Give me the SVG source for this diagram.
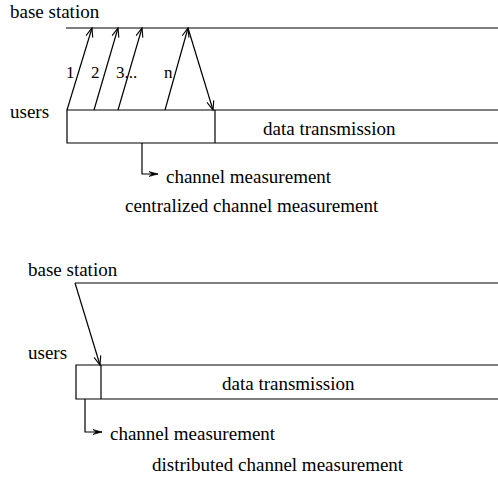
<svg xmlns="http://www.w3.org/2000/svg" width="498" height="477" viewBox="0 0 498 477">
<defs>
<style>
text{font-family:"Liberation Serif","Times New Roman",serif;font-size:19px;fill:#000}
.lbl{font-size:17px}
.ln{stroke:#000;stroke-width:1.2;fill:none}
</style>
<marker id="ah" markerWidth="12" markerHeight="10" refX="10" refY="5" orient="auto" markerUnits="userSpaceOnUse">
<path d="M1,1.5 L10,5 L1,8.5" fill="none" stroke="#000" stroke-width="1.1"/>
</marker>
<marker id="ch" markerWidth="12" markerHeight="8" refX="10" refY="4" orient="auto" markerUnits="userSpaceOnUse">
<path d="M1,1.5 L10,4 L1,6.5 L4,4 Z" fill="#000" stroke="#000" stroke-width="0.6"/>
</marker>
</defs>
<rect width="498" height="477" fill="#fff"/>

<g id="top-base-station">
<text x="10" y="18">base station</text>
<line class="ln" x1="66" y1="28" x2="498" y2="28"/>
</g>
<g id="top-users">
<text x="10" y="118">users</text>
</g>
<g id="top-box">
<path class="ln" d="M498,110 H67 V143 H498"/>
<line class="ln" x1="215" y1="110" x2="215" y2="143"/>
<text x="263" y="135">data transmission</text>
</g>
<g id="top-channel-measurement">
<text x="166" y="183">channel measurement</text>
</g>
<g id="top-caption">
<text x="125" y="212">centralized channel measurement</text>
</g>

<g id="bottom-base-station">
<text x="28" y="276">base station</text>
<line class="ln" x1="75" y1="283" x2="498" y2="283"/>
</g>
<g id="bottom-users">
<text x="28" y="359">users</text>
</g>
<g id="bottom-box">
<path class="ln" d="M498,365 H76 V399 H498"/>
<line class="ln" x1="101" y1="365" x2="101" y2="399"/>
<text x="222" y="390">data transmission</text>
</g>
<g id="bottom-channel-measurement">
<text x="110" y="440">channel measurement</text>
</g>
<g id="bottom-caption">
<text x="152" y="471">distributed channel measurement</text>
</g>

<g id="connectors">
<line class="ln" x1="67" y1="110" x2="92" y2="28" marker-end="url(#ah)"/>
<line class="ln" x1="94" y1="110" x2="118" y2="28" marker-end="url(#ah)"/>
<line class="ln" x1="118" y1="110" x2="142" y2="28" marker-end="url(#ah)"/>
<line class="ln" x1="165" y1="110" x2="188" y2="28" marker-end="url(#ah)"/>
<line class="ln" x1="188" y1="28" x2="213" y2="110" marker-end="url(#ah)"/>
<text class="lbl" x="66" y="78">1</text>
<text class="lbl" x="91" y="78">2</text>
<text class="lbl" x="116" y="78">3...</text>
<text class="lbl" x="164" y="78">n</text>
<path class="ln" d="M142,143 V174 H158" marker-end="url(#ch)"/>
<line class="ln" x1="75" y1="283" x2="100" y2="365" marker-end="url(#ah)"/>
<path class="ln" d="M85,399 V432 H102" marker-end="url(#ch)"/>
</g>
</svg>
